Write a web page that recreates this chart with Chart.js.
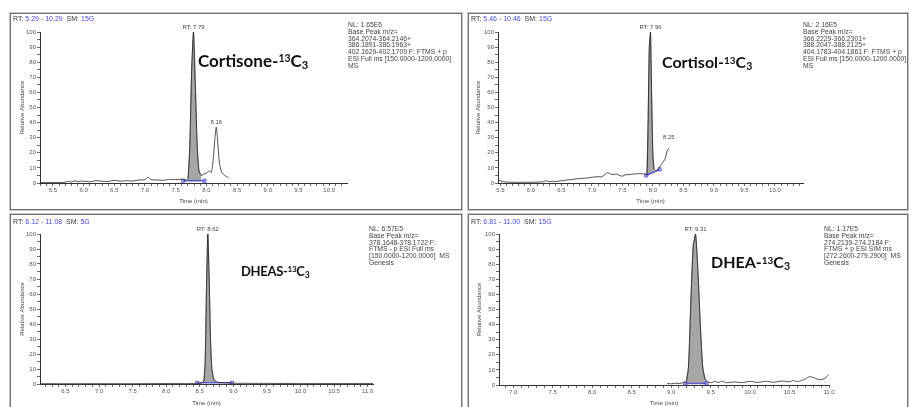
<!DOCTYPE html>
<html><head><meta charset="utf-8">
<script src="https://cdn.jsdelivr.net/npm/chart.js@4"></script>
<style>
html,body{margin:0;padding:0;background:#fff;overflow:hidden;width:910px;height:407px;position:relative;}
.frame{position:absolute;border:1px solid #707070;box-shadow:0 0 0 1px #c4c4c4;box-sizing:border-box;}
canvas{position:absolute;}
.hdr{position:absolute;font:7px 'Liberation Sans',Arial,sans-serif;color:#333;white-space:nowrap;line-height:8px;}
.hdr .b{color:#4a4ad0;}
.nl{position:absolute;font:6.8px 'Liberation Sans',Arial,sans-serif;line-height:6.8px;color:#444;white-space:pre;}
.cmp{position:absolute;font-family:Lato,'Open Sans',sans-serif;font-weight:bold;color:#111;white-space:nowrap;}
.cmp .sp{font-size:0.62em;position:relative;top:-0.45em;}
.cmp .sb{font-size:0.66em;position:relative;top:0.22em;}
</style></head>
<body>
<div class="frame" style="left:10px;top:13px;width:452px;height:197px"></div>
<div class="frame" style="left:468px;top:13px;width:440px;height:197px"></div>
<div class="frame" style="left:10px;top:214px;width:452px;height:200px"></div>
<div class="frame" style="left:468px;top:214px;width:440px;height:200px"></div>

<canvas id="c1" width="452" height="197" style="left:10px;top:13px"></canvas>
<canvas id="c2" width="440" height="197" style="left:468px;top:13px"></canvas>
<canvas id="c3" width="452" height="197" style="left:10px;top:214px"></canvas>
<canvas id="c4" width="440" height="197" style="left:468px;top:214px"></canvas>

<div class="hdr" style="left:13px;top:15px">RT: <span class="b">5.29 - 10.29</span>&nbsp; SM: <span class="b">15G</span></div>
<div class="hdr" style="left:471px;top:15px">RT: <span class="b">5.46 - 10.46</span>&nbsp; SM: <span class="b">15G</span></div>
<div class="hdr" style="left:13px;top:218px">RT: <span class="b">6.12 - 11.08</span>&nbsp; SM: <span class="b">5G</span></div>
<div class="hdr" style="left:471px;top:218px">RT: <span class="b">6.81 - 11.00</span>&nbsp; SM: <span class="b">15G</span></div>

<div class="nl" style="left:348px;top:22px">NL: 1.65E6
Base Peak m/z=
364.2074-364.2146+
386.1891-386.1963+
402.1629-402.1709 F: FTMS + p
ESI Full ms [150.0000-1200.0000]
MS</div>
<div class="nl" style="left:803px;top:22px">NL: 2.16E5
Base Peak m/z=
366.2229-366.2301+
388.2047-388.2125+
404.1783-404.1861 F: FTMS + p
ESI Full ms [150.0000-1200.0000]
MS</div>
<div class="nl" style="left:369px;top:226px">NL: 6.57E5
Base Peak m/z=
378.1648-378.1722 F:
FTMS - p ESI Full ms
[150.0000-1200.0000]  MS
Genesis</div>
<div class="nl" style="left:824px;top:226px">NL: 1.17E5
Base Peak m/z=
274.2139-274.2184 F:
FTMS + p ESI SIM ms
[272.2600-279.2900]  MS
Genesis</div>

<div class="cmp" style="left:198px;top:51px;font-size:17px;line-height:20px">Cortisone-<span class="sp">13</span>C<span class="sb">3</span></div>
<div class="cmp" style="left:662px;top:52px;font-size:16px;line-height:19px">Cortisol-<span class="sp">13</span>C<span class="sb">3</span></div>
<div class="cmp" style="left:241px;top:263px;font-size:13px;line-height:16px;letter-spacing:-0.3px">DHEAS-<span class="sp">13</span>C<span class="sb">3</span></div>
<div class="cmp" style="left:711px;top:252px;font-size:16px;line-height:19px">DHEA-<span class="sp">13</span>C<span class="sb">3</span></div>

<script>
// ---------- Panel 1: Cortisone-13C3 ----------
const p1Range = [5.29, 10.29];
const p1Time  = [5.29,5.4,5.5,5.6,5.7,5.75,5.8,5.85,5.9,6.0,6.1,6.2,6.3,6.4,6.5,6.6,6.7,6.8,6.9,7.0,7.05,7.1,7.2,7.3,7.4,7.5,7.6,7.65,7.7,7.73,7.76,7.79,7.82,7.85,7.88,7.92,7.96,8.0,8.04,8.08,8.11,8.14,8.16,8.18,8.21,8.25,8.3,8.36];
const p1Abund = [0.3,0.3,0.4,0.3,0.5,1.2,0.6,1.5,1,1.2,0.8,1.5,1.2,1,1.8,1.2,1.5,1.3,2,2.2,3.8,2.2,2,1.8,2.4,2.2,2.5,2,3,25,75,100,65,25,8,5,6,6.5,8,7,15,30,37,30,14,7,5,3.5];
const p1PeakTime  = [7.7,7.73,7.76,7.79,7.82,7.85,7.88,7.92];
const p1PeakAbund = [3,25,75,100,65,25,8,5];
const p1BaseTime  = [7.62,7.97];
const p1BaseAbund = [1.5,1.5];
const p1LabelTime  = [7.79,8.16];
const p1LabelAbund = [100,37];
const p1LabelText  = ['RT: 7.79','8.16'];

// ---------- Panel 2: Cortisol-13C3 ----------
const p2Range = [5.46, 10.46];
const p2Time  = [5.46,5.5,5.55,5.6,5.7,5.8,5.9,6.0,6.1,6.2,6.25,6.3,6.35,6.4,6.5,6.6,6.7,6.8,6.9,7.0,7.1,7.15,7.2,7.25,7.3,7.35,7.4,7.45,7.5,7.55,7.6,7.7,7.8,7.85,7.9,7.92,7.94,7.96,7.98,8.0,8.02,8.05,8.1,8.15,8.2,8.23,8.26];
const p2Abund = [2,1.5,0.8,0.6,0.5,0.4,0.5,0.5,0.6,0.8,1.5,0.8,1.2,1,1.5,2,2.5,3,3.2,3.8,4.2,4,5,7,6,5.5,6,5,4.5,5.5,5.5,6,6.2,6,5.5,40,90,100,55,18,9,8,10,13,16,21,23];
const p2PeakTime  = [7.9,7.92,7.94,7.96,7.98,8.0,8.02];
const p2PeakAbund = [5.5,40,90,100,55,18,9];
const p2BaseTime  = [7.89,8.11];
const p2BaseAbund = [5,9];
const p2LabelTime  = [7.96,8.26];
const p2LabelAbund = [100,27];
const p2LabelText  = ['RT: 7.96','8.25'];

// ---------- Panel 3: DHEAS-13C3 ----------
const p3Range = [6.12, 11.08];
const p3Time  = [6.12,6.5,7.0,7.5,8.0,8.3,8.45,8.52,8.56,8.58,8.6,8.62,8.64,8.66,8.68,8.71,8.75,8.8,8.9,9.0,9.5,10.0,10.5,11.08];
const p3Abund = [0.2,0.2,0.2,0.2,0.3,0.3,0.4,0.6,2,15,65,100,70,30,10,3,1.5,1,0.8,0.5,0.4,0.3,0.3,0.3];
const p3PeakTime  = [8.55,8.56,8.58,8.6,8.62,8.64,8.66,8.68,8.71,8.74];
const p3PeakAbund = [0.8,2,15,65,100,70,30,10,3,1.8];
const p3BaseTime  = [8.46,8.98];
const p3BaseAbund = [0.8,0.8];
const p3LabelTime  = [8.62];
const p3LabelAbund = [100];
const p3LabelText  = ['RT: 8.62'];

// ---------- Panel 4: DHEA-13C3 ----------
const p4Range = [6.82, 11.0];
const p4Time  = [8.95,9.0,9.05,9.1,9.15,9.19,9.22,9.25,9.28,9.31,9.34,9.37,9.4,9.43,9.47,9.5,9.55,9.6,9.65,9.7,9.8,9.9,10.0,10.1,10.2,10.3,10.4,10.5,10.55,10.6,10.65,10.7,10.75,10.8,10.85,10.9,10.95,11.0];
const p4Abund = [1,0.8,1.2,1,1.5,2,12,55,92,100,75,40,12,4,2,1.5,2.2,1.8,2.5,1.5,2,1.6,2.4,1.7,2.5,1.8,2.6,2.2,3,2.2,3,4,5.5,5,4,3.5,4.5,7];
const p4PeakTime  = [9.19,9.22,9.25,9.28,9.31,9.34,9.37,9.4,9.43,9.45];
const p4PeakAbund = [2,12,55,92,100,75,40,12,4,2];
const p4BaseTime  = [9.18,9.45];
const p4BaseAbund = [1,1];
const p4LabelTime  = [9.31];
const p4LabelAbund = [100];
const p4LabelText  = ['RT: 9.31'];

// axis tick spacing
const xMinorStep = 0.1, xMajorStep = 0.5;
const yMinorStep = 5, yMajorStep = 10;

Chart.defaults.font.family = "'Liberation Sans', Arial, sans-serif";
Chart.defaults.font.size = 6;
Chart.defaults.color = '#555';

const pts = (xs, ys) => xs.map((x, i) => ({x, y: ys[i]}));

const peakLabels = {
  id: 'peakLabels',
  afterDatasetsDraw(chart, args, o) {
    const {ctx, scales: {x, y}} = chart;
    ctx.save();
    ctx.font = "6px 'Liberation Sans', Arial, sans-serif";
    ctx.fillStyle = '#444';
    ctx.textAlign = 'center';
    ctx.textBaseline = 'bottom';
    o.times.forEach((t, i) => {
      ctx.fillText(o.texts[i], x.getPixelForValue(t), y.getPixelForValue(o.values[i]) - 2);
    });
    ctx.restore();
  }
};

function makeChart(id, g, range, tT, tA, pT, pA, bT, bA, lT, lA, lX) {
  const cv = document.getElementById(id);
  const W = cv.width, H = cv.height;
  const lastB = bT.length - 1;
  new Chart(cv, {
    type: 'line',
    data: {
      datasets: [
        {data: pts(tT, tA), borderColor: '#222', borderWidth: 0.8, pointRadius: 0, fill: false, order: 0, tension: 0.2},
        {data: pts(pT, pA), borderColor: '#555', borderWidth: 0.6, backgroundColor: '#a6a6a6', pointRadius: 0, fill: 2, order: 2, tension: 0.2},
        {data: pts(bT, bA), borderColor: 'rgba(70,70,200,0.85)', borderWidth: 1.6, pointStyle: 'rect',
         pointRadius: c => (c.dataIndex === 0 || c.dataIndex === lastB) ? 2.2 : 0,
         pointBackgroundColor: 'rgba(150,150,230,0.6)', pointBorderColor: 'rgba(60,60,200,0.9)', pointBorderWidth: 0.8,
         fill: false, order: 1}
      ]
    },
    options: {
      responsive: false, animation: false, devicePixelRatio: 1,
      layout: {padding: {left: g.padL, right: W - g.right, top: g.top, bottom: 0}},
      plugins: {legend: {display: false}, tooltip: {enabled: false},
                peakLabels: {times: lT, values: lA, texts: lX}},
      scales: {
        x: {
          type: 'linear', min: range[0], max: range[1],
          afterFit: s => { s.height = H - g.bottom; },
          afterBuildTicks: s => {
            const t = [];
            for (let k = Math.ceil(range[0] / xMinorStep - 1e-6); k * xMinorStep <= range[1] + 1e-6; k++) t.push({value: +(k * xMinorStep).toFixed(2)});
            s.ticks = t;
          },
          ticks: {autoSkip: false, maxRotation: 0, padding: 1, color: '#555',
                  callback: v => (Math.abs(v / xMajorStep - Math.round(v / xMajorStep)) < 1e-6) ? v.toFixed(1) : ''},
          grid: {drawOnChartArea: false, tickLength: 3, color: '#444', tickWidth: 0.8},
          border: {color: '#333', width: 1},
          title: {display: true, text: 'Time (min)', color: '#444', font: {size: 6}, padding: {top: 0, bottom: g.tpad}}
        },
        y: {
          min: 0, max: 100,
          afterFit: s => { s.width = g.left - g.padL; },
          afterBuildTicks: s => {
            const t = [];
            for (let v = 0; v <= 100; v += yMinorStep) t.push({value: v});
            s.ticks = t;
          },
          ticks: {autoSkip: false, padding: 1, color: '#555',
                  callback: v => (v % yMajorStep === 0) ? String(v) : ''},
          grid: {drawOnChartArea: false, tickLength: 3, color: '#444', tickWidth: 0.8},
          border: {color: '#333', width: 1},
          title: {display: true, text: 'Relative Abundance', color: '#444', font: {size: 6}, padding: {top: 0, bottom: 0}}
        }
      }
    },
    plugins: [peakLabels]
  });
}

makeChart('c1', {left: 30, right: 337, top: 19, bottom: 170, padL: 9, tpad: 5}, p1Range, p1Time, p1Abund, p1PeakTime, p1PeakAbund, p1BaseTime, p1BaseAbund, p1LabelTime, p1LabelAbund, p1LabelText);
makeChart('c2', {left: 30, right: 335, top: 19, bottom: 170, padL: 7, tpad: 5}, p2Range, p2Time, p2Abund, p2PeakTime, p2PeakAbund, p2BaseTime, p2BaseAbund, p2LabelTime, p2LabelAbund, p2LabelText);
makeChart('c3', {left: 30, right: 363, top: 20, bottom: 170, padL: 9, tpad: 4}, p3Range, p3Time, p3Abund, p3PeakTime, p3PeakAbund, p3BaseTime, p3BaseAbund, p3LabelTime, p3LabelAbund, p3LabelText);
makeChart('c4', {left: 31, right: 361, top: 20, bottom: 171, padL: 8, tpad: 4}, p4Range, p4Time, p4Abund, p4PeakTime, p4PeakAbund, p4BaseTime, p4BaseAbund, p4LabelTime, p4LabelAbund, p4LabelText);
</script>
</body></html>
